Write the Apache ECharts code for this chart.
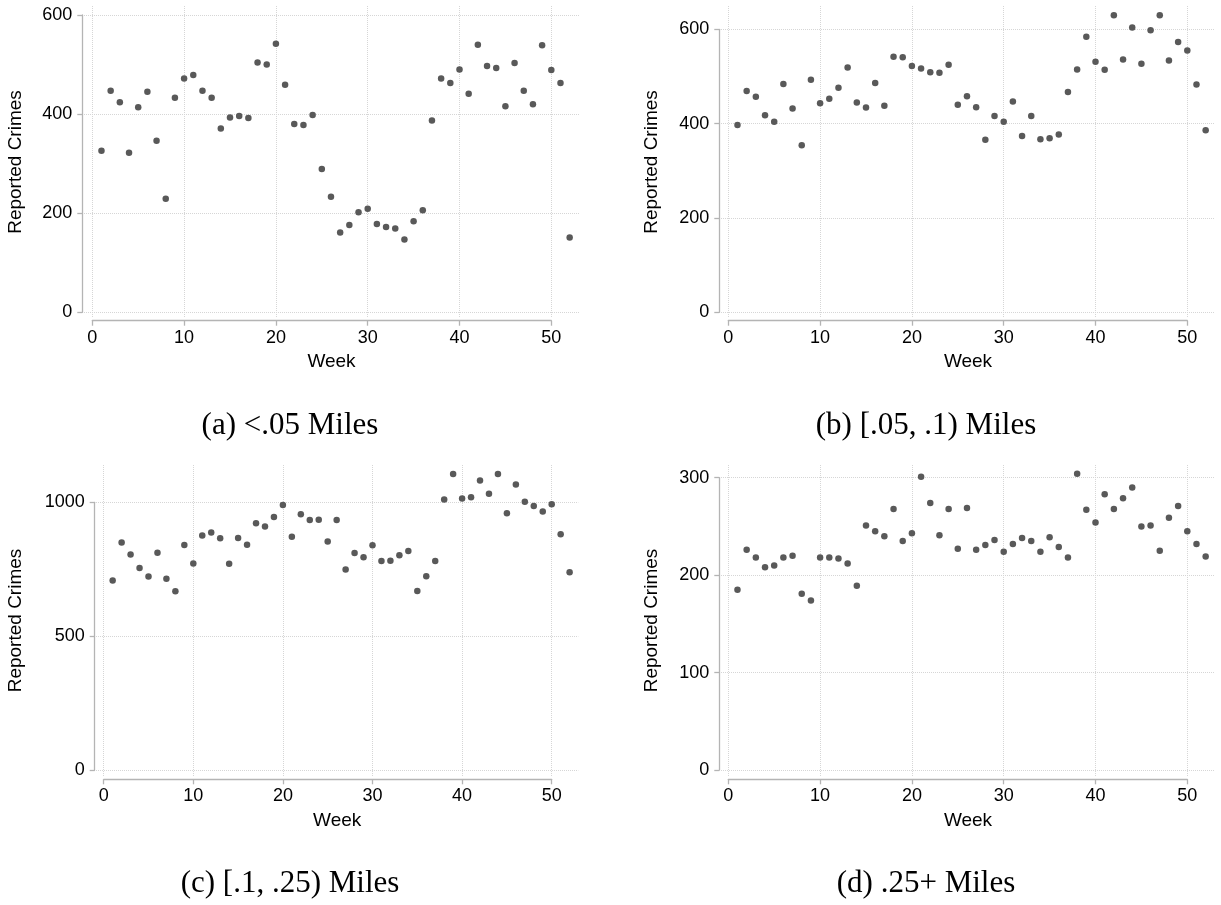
<!DOCTYPE html>
<html><head><meta charset="utf-8">
<script src="https://cdn.jsdelivr.net/npm/echarts@6/dist/echarts.min.js"></script>
<style>html,body{margin:0;padding:0;background:#fff}#c{width:1221px;height:905px}</style>
</head><body><div id="c"></div>
<script>
// ---- data ----
const weeks = [1,2,3,4,5,6,7,8,9,10,11,12,13,14,15,16,17,18,19,20,21,22,23,24,25,26,
               27,28,29,30,31,32,33,34,35,36,37,38,39,40,41,42,43,44,45,46,47,48,49,50,51,52];
const crimesA = [326,447,424,322,414,445,346,229,433,472,479,447,433,371,393,396,392,504,500,542,
                 459,380,378,398,289,233,161,176,202,209,178,172,169,147,184,206,387,472,463,490,
                 441,540,497,493,416,503,447,420,539,489,463,151];
const crimesB = [397,469,457,418,404,484,432,354,493,443,453,476,519,445,434,486,438,542,541,522,
                 517,509,508,525,440,458,435,366,416,404,447,374,416,367,369,377,467,515,584,531,
                 514,630,536,604,527,598,630,534,573,555,483,386];
const crimesC = [708,850,805,755,723,812,715,668,841,772,876,887,866,771,867,842,922,910,945,990,
                 871,955,934,935,854,934,749,811,795,840,781,782,802,818,669,724,781,1010,1106,1014,
                 1019,1081,1032,1106,959,1066,1002,986,966,993,881,739];
const crimesD = [185,226,218,208,210,218,220,181,174,218,218,217,212,189,251,245,240,268,235,243,
                 301,274,241,268,227,269,226,231,236,224,232,238,235,224,239,229,218,304,267,254,
                 283,268,279,290,250,251,225,259,271,245,232,219];
const xTicks = [0,10,20,30,40,50];
const yTicksA = [0,200,400,600];
const yTicksB = [0,200,400,600];
const yTicksC = [0,500,1000];
const yTicksD = [0,100,200,300];
const captions = ['(a) <.05 Miles','(b) [.05, .1) Miles','(c) [.1, .25) Miles','(d) .25+ Miles'];
const xTitle = 'Week';
const yTitle = 'Reported Crimes';

// ---- layout (pixels) ----
const layout = [
 {x0:92.3, x50:551.3, y0:312.3, yT:15,   L:84,  R:579,   T:6,   B:318, yAx:82.3,  xAx:320.7, nameR:25.5,  cap:[290,425.5]},
 {x0:728.3,x50:1187.3,y0:312.3, yT:29.3, L:721, R:1215,  T:6,   B:318, yAx:719.3, xAx:320.7, nameR:661.5, cap:[926,425.5]},
 {x0:103.7,x50:551.7, y0:770.3, yT:502.3,L:96,  R:578.3, T:465, B:776, yAx:94.7,  xAx:779.3, nameR:25.5,  cap:[290,884]},
 {x0:728.3,x50:1187.3,y0:770,   yT:477.7,L:721, R:1215,  T:465, B:776, yAx:719.3, xAx:779.3, nameR:661.5, cap:[926,884]}
];
const panels = [
  {vals:crimesA, yTicks:yTicksA},
  {vals:crimesB, yTicks:yTicksB},
  {vals:crimesC, yTicks:yTicksC},
  {vals:crimesD, yTicks:yTicksD}
];

const SANS = '"Liberation Sans", Arial, sans-serif';
const SERIF = '"Liberation Serif", "Times New Roman", serif';
const axisGray = '#b4b4b4';
const gridGray = '#d6d6d6';
const plain = v => String(v);

const grid = [], xAxis = [], yAxis = [], series = [], graphic = [];
panels.forEach((p, i) => {
  const g = layout[i];
  const xMaxT = xTicks[xTicks.length-1];
  const yTop = p.yTicks[p.yTicks.length-1];
  const yStep = p.yTicks[1] - p.yTicks[0];
  const sx = (g.x50 - g.x0) / xMaxT;
  const sy = (g.y0 - g.yT) / yTop;
  grid.push({left:g.L, top:g.T, width:g.R-g.L, height:g.B-g.T, containLabel:false, outerBoundsMode:'none'});
  grid.push({left:g.x0, top:g.yT, width:g.x50-g.x0, height:g.y0-g.yT, containLabel:false, outerBoundsMode:'none'});
  const a = 2*i, b = 2*i+1;
  xAxis.push({
    type:'value', gridIndex:a, min:(g.L-g.x0)/sx, max:(g.R-g.x0)/sx,
    axisLine:{show:false}, axisTick:{show:false, customValues:xTicks},
    axisLabel:{show:false, customValues:xTicks},
    splitLine:{show:true, lineStyle:{color:gridGray, type:'dotted', width:1}},
    name:xTitle, nameLocation:'middle', nameGap:g.xAx + 31.5 - g.B,
    nameTextStyle:{fontFamily:SANS, fontSize:19, color:'#000', verticalAlign:'top'}
  });
  yAxis.push({
    type:'value', gridIndex:a, min:-(g.B-g.y0)/sy, max:yTop + (g.yT-g.T)/sy,
    axisLine:{show:false}, axisTick:{show:false, customValues:p.yTicks},
    axisLabel:{show:false, customValues:p.yTicks},
    splitLine:{show:true, lineStyle:{color:gridGray, type:'dotted', width:1}},
    name:yTitle, nameLocation:'middle', nameGap:g.L - g.nameR, nameRotate:90,
    nameTextStyle:{fontFamily:SANS, fontSize:19, color:'#000'}
  });
  xAxis.push({
    type:'value', gridIndex:b, min:0, max:xMaxT, interval:10, offset:g.xAx - g.y0,
    axisLine:{show:true, onZero:false, lineStyle:{color:axisGray, width:1.3}},
    axisTick:{show:true, length:5, lineStyle:{color:axisGray, width:1.3}},
    axisLabel:{margin:8, fontFamily:SANS, fontSize:18, color:'#000', formatter:plain},
    splitLine:{show:false}
  });
  yAxis.push({
    type:'value', gridIndex:b, min:0, max:yTop, interval:yStep, offset:g.x0 - g.yAx,
    axisLine:{show:true, onZero:false, lineStyle:{color:axisGray, width:1.3}},
    axisTick:{show:true, length:5, lineStyle:{color:axisGray, width:1.3}},
    axisLabel:{margin:10, fontFamily:SANS, fontSize:18, color:'#000', formatter:plain},
    splitLine:{show:false}
  });
  series.push({
    type:'scatter', xAxisIndex:b, yAxisIndex:b, clip:false, silent:true,
    symbol:'circle', symbolSize:6.5, itemStyle:{color:'#595959', opacity:1},
    data: weeks.map((w,k) => [w, p.vals[k]])
  });
  graphic.push({
    type:'text', x:g.cap[0], y:g.cap[1], silent:true,
    style:{text:captions[i], font:'31px ' + SERIF, fill:'#000', align:'center', verticalAlign:'middle'}
  });
});

const chart = echarts.init(document.getElementById('c'), null, {renderer:'canvas', width:1221, height:905});
chart.setOption({
  animation:false, backgroundColor:'#ffffff',
  grid, xAxis, yAxis, series, graphic
});
</script></body></html>
